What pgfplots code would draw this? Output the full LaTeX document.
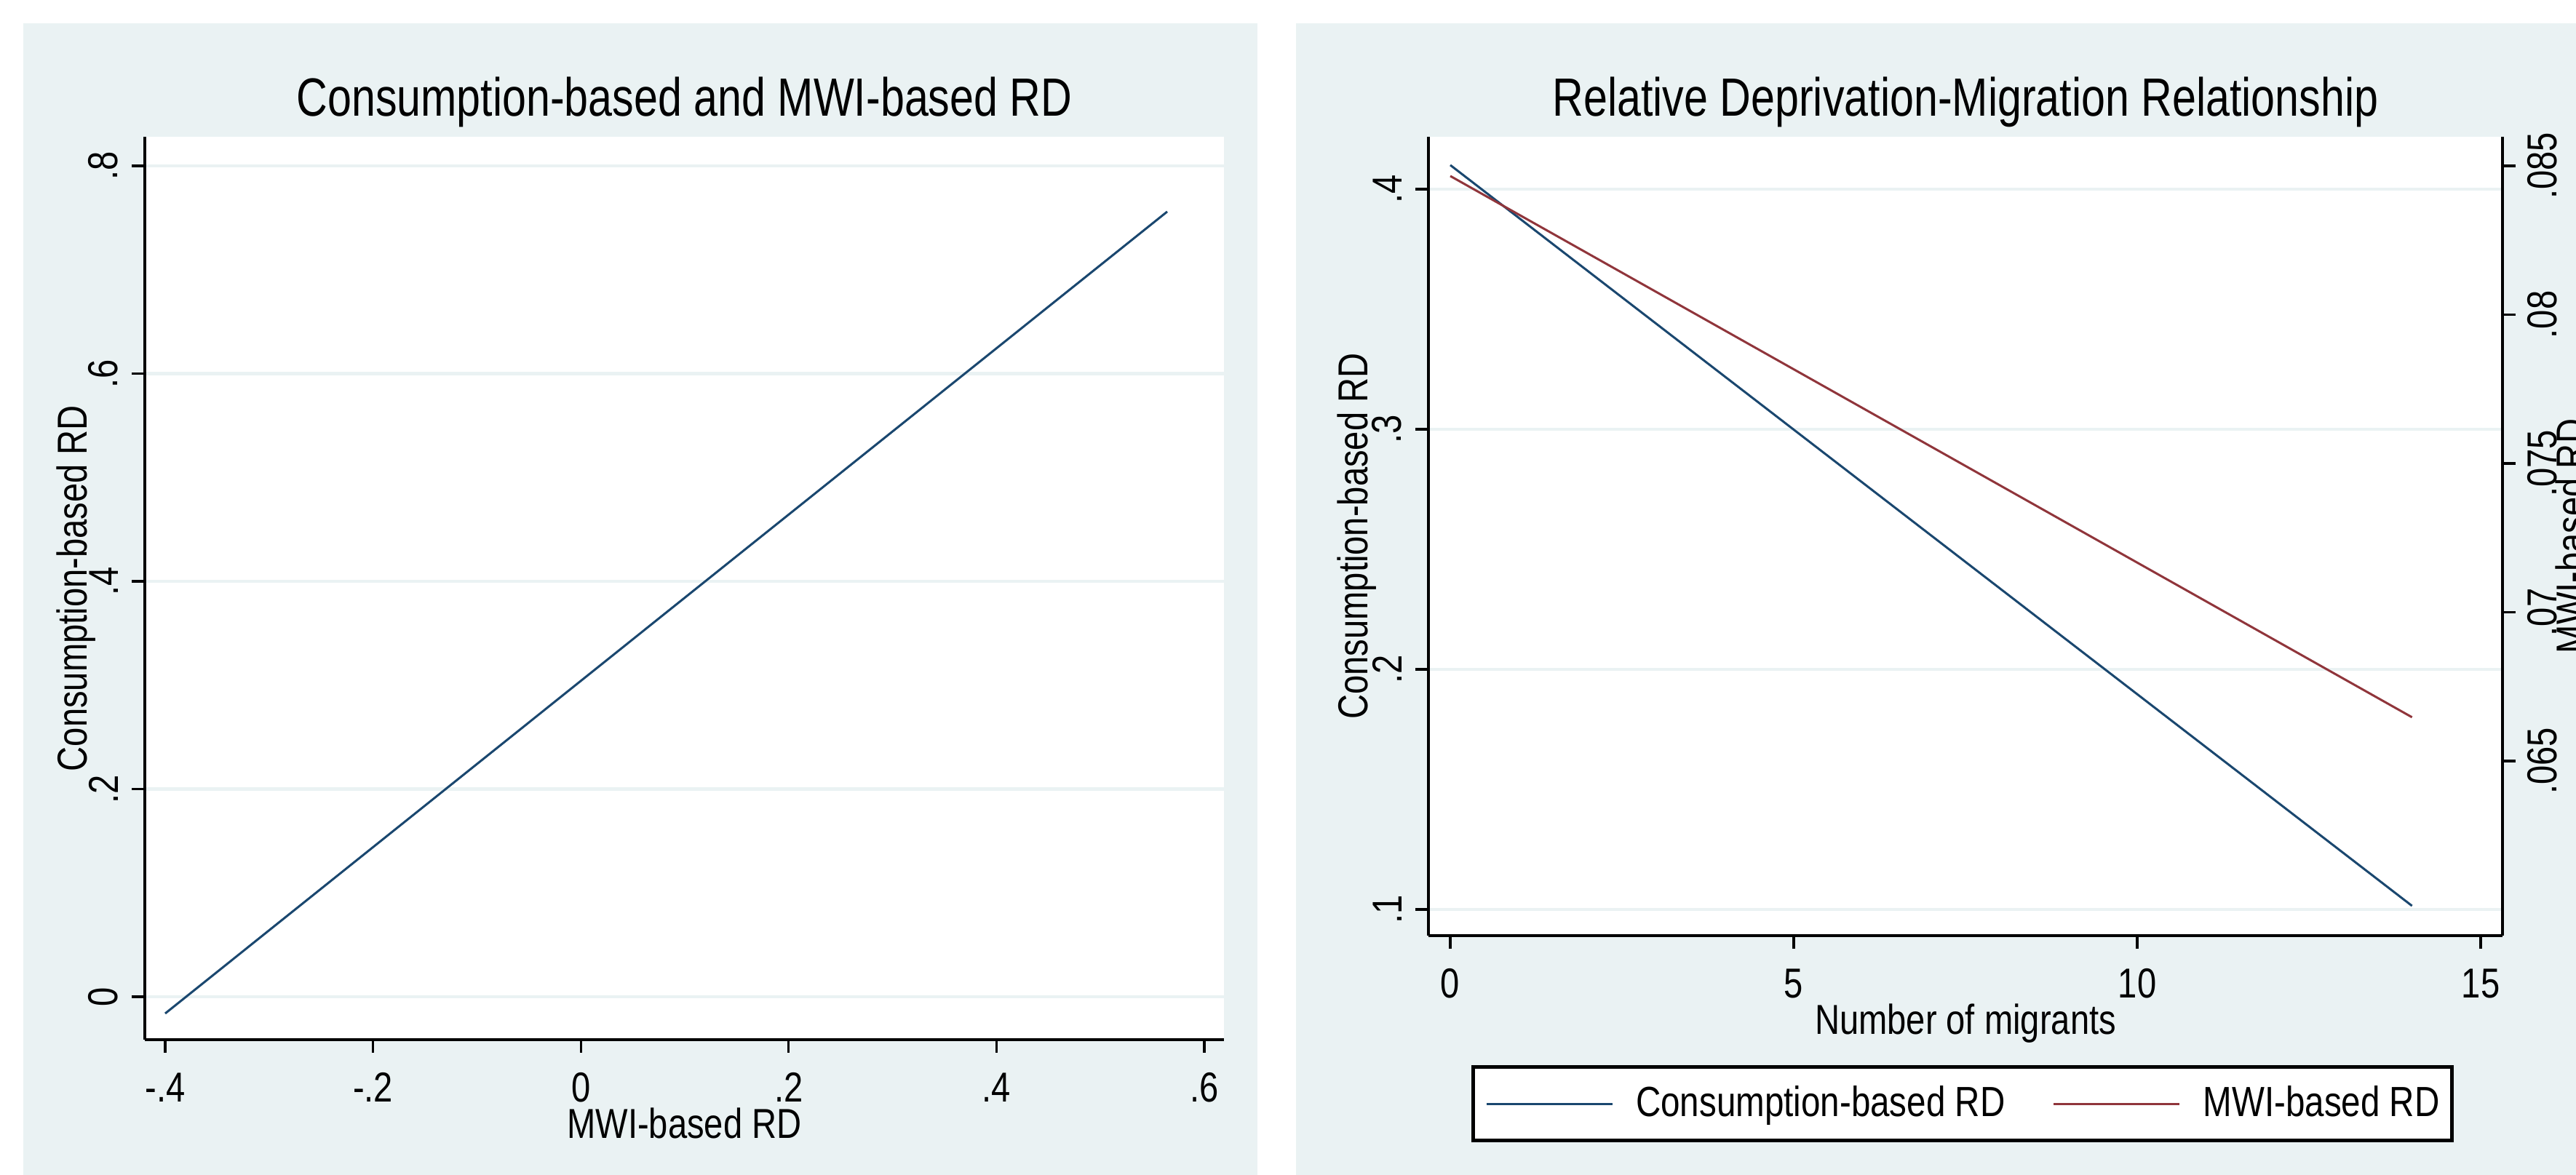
\documentclass[border=0pt]{standalone}
\usepackage{fontspec}
\setmainfont{Liberation Sans}[FakeStretch=0.82]
\newfontfamily\titlefont{Liberation Sans}[FakeStretch=0.8]
\usepackage{pgfplots}
\pgfplotsset{compat=1.18}
\definecolor{bg}{RGB}{234,242,243}
\definecolor{snavy}{RGB}{26,71,111}
\definecolor{smaroon}{RGB}{144,53,59}
\pgfplotsset{
  stata/.style={
    scale only axis,
    axis line style={black, line width=0.65pt, -},
    tick align=outside,
    major tick length=3.6pt,
    every tick/.style={black, line width=0.65pt},
    minor tick num=0,
    tick label style={font=\fontsize{11.5}{13}\selectfont, inner sep=0pt},
    label style={font=\fontsize{11.5}{13}\selectfont, inner sep=0pt},
    title style={font=\titlefont\fontsize{14.8}{17}\selectfont, inner sep=0pt,
      anchor=base, at={(axis description cs:0.5,1)}, yshift=-0.4pt},
    xticklabel style={anchor=base},
    xticklabel shift=13.6pt,
    scaled ticks=false,
  },
  leftstyle/.style={
    yticklabel style={rotate=90, anchor=south},
    yticklabel shift=3.6pt,
    ymajorgrids,
    grid style={bg, line width=0.9pt},
    axis background/.style={fill=white},
  },
}
\begin{document}
\begin{tikzpicture}[x=1pt,y=1pt]
\useasboundingbox (0,0) rectangle (708,323);
\clip (0,0) rectangle (708,323);
\fill[bg] (6.4,0) rectangle (345.6,316.6);
\fill[bg] (356.2,0) rectangle (708,316.6);

% ---------- left panel ----------
\begin{axis}[stata, leftstyle,
  at={(39.8pt,37.2pt)}, anchor=south west,
  width=296.6pt, height=248.2pt,
  xmin=-0.4196, xmax=0.6189, ymin=-0.0413, ymax=0.828,
  axis x line*=bottom, axis y line*=left,
  xtick={-0.4,-0.2,0,0.2,0.4,0.6},
  xticklabels={-.4,-.2,0,.2,.4,.6},
  ytick={0,0.2,0.4,0.6,0.8},
  yticklabels={0,.2,.4,.6,.8},
  title={Consumption-based and MWI-based RD},
  xlabel={MWI-based RD},
  ylabel={Consumption-based RD},
  xlabel style={at={(axis description cs:0.5,0)}, anchor=base, yshift=-27.2pt},
  ylabel style={at={(axis description cs:-0.0533,0.5)}, anchor=base},
]
\addplot[snavy, line width=0.6pt] coordinates {(-0.4,-0.0161) (0.5643,0.7559)};
\end{axis}

% ---------- right panel, left axis ----------
\begin{axis}[stata, leftstyle,
  at={(392.6pt,65.8pt)}, anchor=south west,
  width=295.2pt, height=219.6pt,
  xmin=-0.318, xmax=15.318, ymin=0.0891, ymax=0.4218,
  axis x line*=bottom, axis y line*=left,
  xtick={0,5,10,15},
  xticklabels={0,5,10,15},
  ytick={0.1,0.2,0.3,0.4},
  yticklabels={.1,.2,.3,.4},
  title={Relative Deprivation-Migration Relationship},
  xlabel={Number of migrants},
  ylabel={Consumption-based RD},
  xlabel style={at={(axis description cs:0.5,0)}, anchor=base, yshift=-27.2pt},
  ylabel style={at={(axis description cs:-0.0569,0.5)}, anchor=base},
  legend columns=2,
  legend cell align=left,
  legend image code/.code={\draw[#1] (0pt,0pt) -- (34.6pt,0pt);},
  legend style={at={(axis description cs:0.040,-0.162)}, anchor=north west,
    draw=black, line width=1pt, fill=white, inner xsep=3.3pt, inner ysep=5.2pt,
    font=\fontsize{11.6}{13}\selectfont,
    nodes={inner sep=0pt},
    /tikz/every odd column/.append style={column sep=6.2pt},
    /tikz/every even column/.append style={column sep=13pt}},
]
\addplot[snavy, line width=0.6pt] coordinates {(0,0.41) (14,0.1015)};
\addlegendentry{Consumption-based RD}
\addlegendimage{smaroon, line width=0.6pt}
\addlegendentry{MWI-based RD\hspace{3.6pt}}
\end{axis}

% ---------- right panel, right axis ----------
\begin{axis}[stata,
  at={(392.6pt,65.8pt)}, anchor=south west,
  width=295.2pt, height=219.6pt,
  xmin=-0.318, xmax=15.318, ymin=0.05913, ymax=0.08598,
  axis x line=none, axis y line*=right,
  ytick={0.065,0.07,0.075,0.08,0.085},
  yticklabels={.065,.07,.075,.08,.085},
  yticklabel style={rotate=90, anchor=north},
  yticklabel shift=3pt,
  ylabel={MWI-based RD},
  ylabel style={at={(axis description cs:1.0772,0.5)}, anchor=base},
]
\addplot[smaroon, line width=0.6pt] coordinates {(0,0.08466) (14,0.06647)};
\end{axis}
\end{tikzpicture}
\end{document}
